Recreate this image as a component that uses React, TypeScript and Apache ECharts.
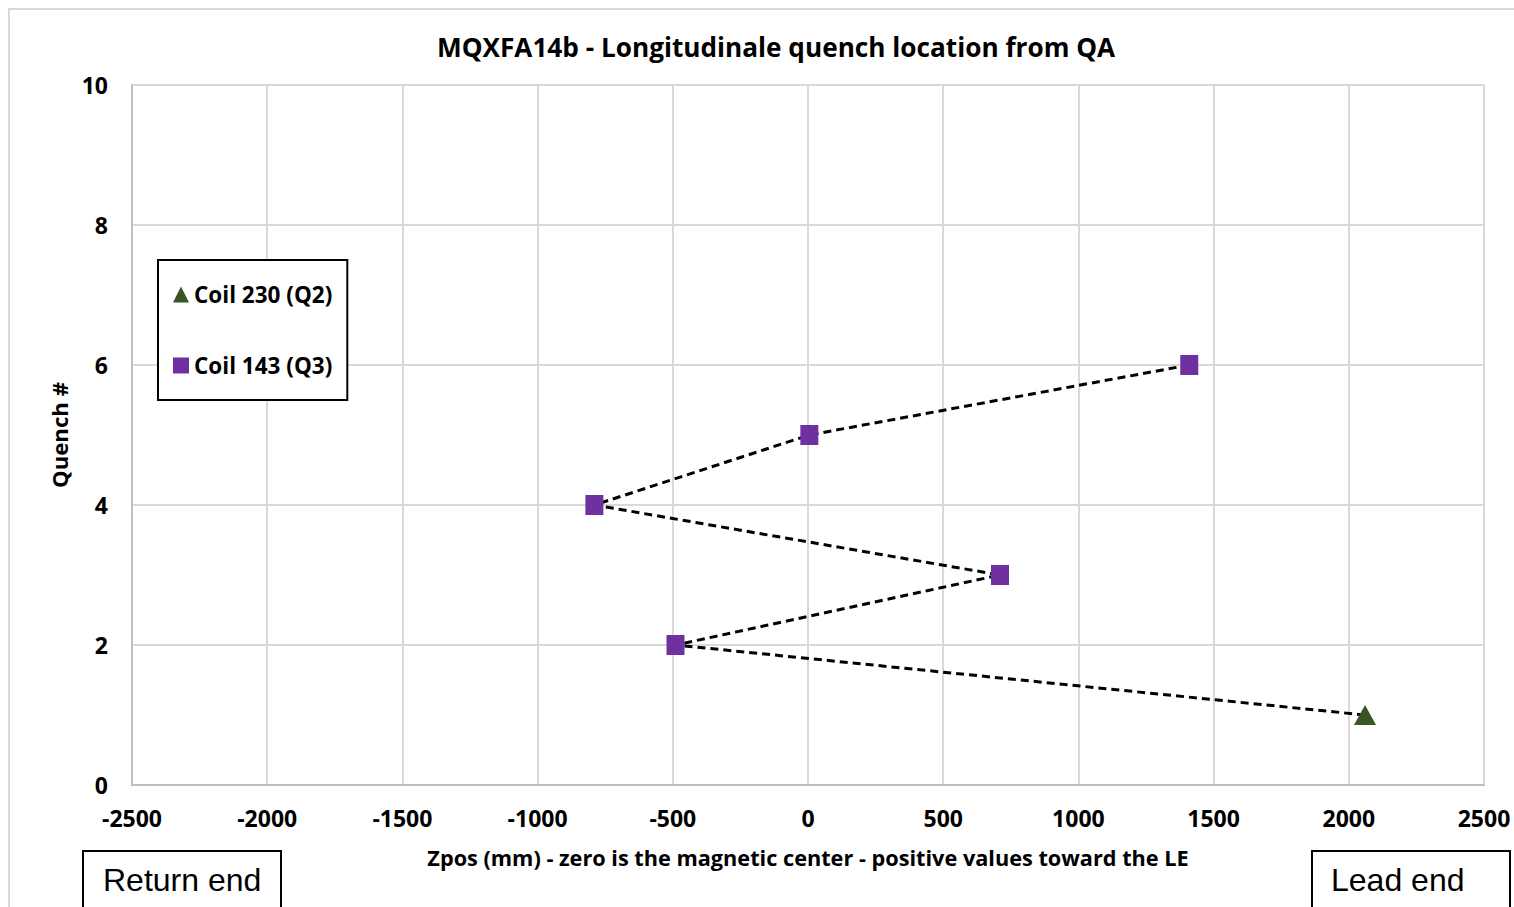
import React, { useEffect, useRef } from "react";
import * as echarts from "echarts";

const titleText = "MQXFA14b - Longitudinale quench location from QA";
const xAxisTitle = "Zpos (mm) - zero is the magnetic center - positive values toward the LE";
const yAxisTitle = "Quench #";
const quenchNumbers = [1, 2, 3, 4, 5, 6];
const zposValues = [2060, -490, 710, -790, 5, 1410];
const coilOfQuench = ["Coil 230 (Q2)", "Coil 143 (Q3)", "Coil 143 (Q3)", "Coil 143 (Q3)", "Coil 143 (Q3)", "Coil 143 (Q3)"];
const coilNames = ["Coil 230 (Q2)", "Coil 143 (Q3)"];
const coilSymbols = ["triangle", "rect"];
const coilColors = ["#375623", "#7030a0"];
const xMin = -2500, xMax = 2500, xStep = 500;
const yMin = 0, yMax = 10, yStep = 2;
const endLabels = ["Return end", "Lead end"];

const FONT = "'Open Sans', sans-serif";

export default function App() {
  const ref = useRef<HTMLDivElement>(null);
  useEffect(() => {
    if (!ref.current) return;
    const chart = echarts.init(ref.current, null, { renderer: "svg" });
    const allPoints = quenchNumbers.map((q, i) => [zposValues[i], q]);
    const coilSeries = coilNames.map((name, ci) => ({
      name,
      type: "scatter",
      symbol: coilSymbols[ci],
      symbolSize: ci === 0 ? [22, 20] : [18, 20],
      itemStyle: { color: coilColors[ci], opacity: 1 },
      z: 5,
      data: quenchNumbers
        .map((q, i) => (coilOfQuench[i] === name ? [zposValues[i], q] : null))
        .filter((d) => d !== null),
    }));
    chart.setOption({
      animation: false,
      backgroundColor: "#ffffff",
      title: {
        text: titleText,
        left: 771,
        textAlign: "center",
        top: 29,
        textStyle: { fontFamily: FONT, fontWeight: "bold", fontSize: 26.2, color: "#000" },
      },
      grid: { left: 132, right: 30, top: 85, bottom: 122 },
      legend: {
        orient: "vertical",
        left: 158,
        top: 260,
        data: coilNames.map((n, i) => ({ name: n, icon: coilSymbols[i], itemStyle: { opacity: 1 } })),
        itemWidth: 16,
        itemHeight: 16,
        itemGap: 48,
        padding: [23, 15, 23, 15],
        borderColor: "#000",
        borderWidth: 2,
        backgroundColor: "#fff",
        textStyle: { fontFamily: FONT, fontWeight: "bold", fontSize: 22.5, color: "#000", lineHeight: 22 },
      },
      xAxis: {
        type: "value",
        min: xMin,
        max: xMax,
        interval: xStep,
        name: xAxisTitle,
        nameLocation: "middle",
        nameGap: 61,
        nameTextStyle: { fontFamily: FONT, fontWeight: "bold", fontSize: 21.7, color: "#000" },
        axisLine: { onZero: false, lineStyle: { color: "#bfbfbf", width: 2 } },
        axisTick: { show: false },
        axisLabel: { fontFamily: FONT, fontWeight: "bold", fontSize: 23, color: "#000", margin: 21, formatter: (v: number) => String(v) },
        splitLine: { lineStyle: { color: "#d9d9d9", width: 2 } },
      },
      yAxis: {
        type: "value",
        min: yMin,
        max: yMax,
        interval: yStep,
        name: yAxisTitle,
        nameLocation: "middle",
        nameGap: 62,
        nameRotate: 90,
        nameTextStyle: { fontFamily: FONT, fontWeight: "bold", fontSize: 22.2, color: "#000" },
        axisLine: { show: true, onZero: false, lineStyle: { color: "#bfbfbf", width: 2 } },
        axisTick: { show: false },
        axisLabel: { fontFamily: FONT, fontWeight: "bold", fontSize: 23, color: "#000", margin: 24, formatter: (v: number) => String(v) },
        splitLine: { lineStyle: { color: "#d9d9d9", width: 2 } },
      },
      graphic: [
        {
          type: "rect",
          shape: { x: 9, y: 9, width: 1700, height: 1200 },
          style: { fill: "none", stroke: "#d9d9d9", lineWidth: 2 },
          silent: true,
          z: -10,
        },
        {
          type: "rect",
          shape: { x: 83, y: 851, width: 198, height: 100 },
          style: { fill: "#fff", stroke: "#000", lineWidth: 2 },
        },
        {
          type: "text",
          x: 103,
          y: 880,
          style: { text: endLabels[0], fontFamily: "'Liberation Sans', Arial, sans-serif", fontSize: 32, fill: "#000", textVerticalAlign: "middle" },
        },
        {
          type: "rect",
          shape: { x: 1312, y: 851, width: 198, height: 100 },
          style: { fill: "#fff", stroke: "#000", lineWidth: 2 },
        },
        {
          type: "text",
          x: 1331,
          y: 880,
          style: { text: endLabels[1], fontFamily: "'Liberation Sans', Arial, sans-serif", fontSize: 32, fill: "#000", textVerticalAlign: "middle" },
        },
      ],
      series: [
        {
          name: "sequence",
          type: "line",
          data: allPoints,
          showSymbol: false,
          symbol: "none",
          lineStyle: { color: "#000", width: 3, type: [8, 5] },
          z: 2,
          silent: true,
        },
        ...coilSeries,
      ],
    });
    return () => chart.dispose();
  }, []);
  return <div ref={ref} style={{ position: "fixed", left: 0, top: 0, width: 1514, height: 907 }} />;
}
